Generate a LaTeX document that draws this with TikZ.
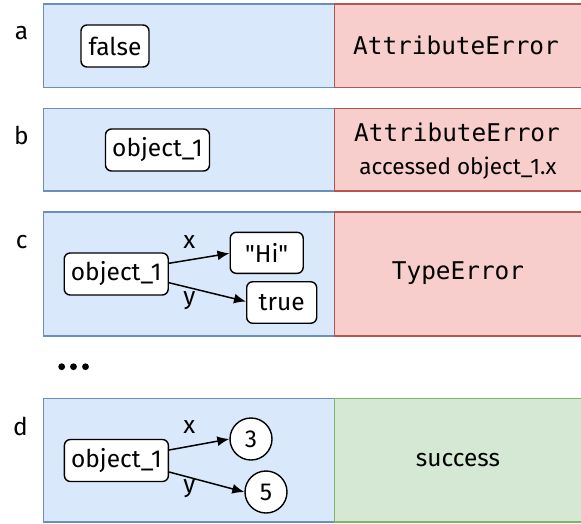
\documentclass[tikz,border=0pt]{standalone}
\usepackage{fontspec}
\setmainfont{Fira Sans}
\newfontfamily\monofont{DejaVu Sans Mono}
\usetikzlibrary{arrows.meta}
\definecolor{bluefill}{HTML}{DAE8FC}
\definecolor{bluedraw}{HTML}{6C8EBF}
\definecolor{redfill}{HTML}{F8CECC}
\definecolor{reddraw}{HTML}{B85450}
\definecolor{greenfill}{HTML}{D5E8D4}
\definecolor{greendraw}{HTML}{82B366}
\tikzset{
  leftbox/.style={fill=bluefill,draw=bluedraw,line width=1.5pt},
  errbox/.style={fill=redfill,draw=reddraw,line width=1.5pt},
  okbox/.style={fill=greenfill,draw=greendraw,line width=1.5pt},
  val/.style={draw=black,fill=white,rounded corners=6pt,line width=1.4pt,inner sep=0pt,
    font=\fontsize{24.5}{28}\selectfont},
  circ/.style={draw=black,fill=white,circle,line width=1.4pt,inner sep=0pt,minimum size=42pt,
    font=\fontsize{24.5}{28}\selectfont},
  lbl/.style={font=\fontsize{24.5}{28}\selectfont,inner sep=0pt},
  mono/.style={font=\monofont\fontsize{24.4}{28}\selectfont,inner sep=0pt},
  arr/.style={-{Latex[length=12pt,width=10pt]},line width=1.5pt},
}
\begin{document}
\begin{tikzpicture}[x=1pt,y=-1pt]
\useasboundingbox (0,0) rectangle (581,523);
% row a
\draw[leftbox] (43.5,4) rectangle (334.5,87.5);
\draw[errbox] (334.5,4) rectangle (582,87.5);
\node[lbl] (la) at (21.5,33) {a};
\node[val,minimum width=68pt,minimum height=42pt] (fa) at (115,46) {false};
\node[mono] (ea) at (456,45) {AttributeError};
% row b
\draw[leftbox] (43.5,108.5) rectangle (334.5,191);
\draw[errbox] (334.5,108.5) rectangle (582,191);
\node[lbl] (lb) at (21.5,135) {b};
\node[val,minimum width=104pt,minimum height=42pt] (ob) at (157.5,150) {object\_1};
\node[mono] (eb) at (457,132) {AttributeError};
\node[lbl,font=\fontsize{22.5}{26}\selectfont] (eb2) at (458,168) {accessed object\_1.x};
% row c
\draw[leftbox] (43.5,212) rectangle (334.5,336);
\draw[errbox] (334.5,212) rectangle (582,336);
\node[lbl] (lc) at (21.7,241.7) {c};
\node[val,minimum width=104pt,minimum height=42pt] (oc) at (116.2,274) {object\_1};
\node[val,minimum width=73pt,minimum height=41pt] (hi) at (266.7,252.8) {\textquotedbl Hi\textquotedbl};
\node[val,minimum width=70pt,minimum height=41.5pt] (tr) at (281.7,302.5) {true};
\node[mono] (ec) at (458,273) {TypeError};
\draw[arr] (oc.east |- 0,263.3) -- (hi.west |- 0,253.3);
\draw[arr] (oc.east |- 0,282.7) -- (tr.west |- 0,301.5);
\node[lbl] (xc) at (189.3,241.7) {x};
\node[lbl] (yc) at (189.3,300.5) {y};
% dots
\fill (61.7,366.7) circle (3.4pt) (73.5,366.7) circle (3.4pt) (85.5,366.7) circle (3.4pt);
% row d
\draw[leftbox] (43.5,398.5) rectangle (334.5,522);
\draw[okbox] (334.5,398.5) rectangle (582,522);
\node[lbl] (ld) at (20.5,426.7) {d};
\node[val,minimum width=104pt,minimum height=42pt] (od) at (116.4,460.5) {object\_1};
\node[circ] (c3) at (251,439) {3};
\node[circ] (c5) at (266,492) {5};
\node[lbl] (ok) at (458,460) {success};
\draw[arr] (od.east |- 0,450) -- (c3.west);
\draw[arr] (od.east |- 0,472) -- (c5.west);
\node[lbl] (xd) at (189.3,427.5) {x};
\node[lbl] (yd) at (189.3,488.5) {y};
\end{tikzpicture}
\end{document}
